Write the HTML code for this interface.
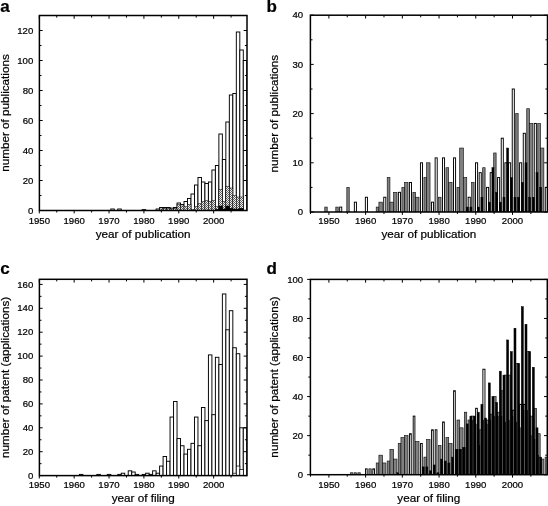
<!DOCTYPE html>
<html><head><meta charset="utf-8"><title>Publications and patents per year</title>
<style>html,body{margin:0;padding:0;background:#fff}svg{display:block}text{font-family:'Liberation Sans', Arial, Helvetica, sans-serif;fill:#000;stroke:#000;stroke-width:0.22px}</style>
</head><body>
<svg width="548" height="506" viewBox="0 0 548 506">
<rect width="548" height="506" fill="#fff"/>
<defs>
<pattern id="hat" width="2" height="2" patternUnits="userSpaceOnUse"><rect width="2" height="2" fill="#f0f0f0"/><rect width="1" height="1" fill="#5a5a5a"/><rect x="1" y="1" width="1" height="1" fill="#6a6a6a"/></pattern>
<clipPath id="ca"><rect x="39.4" y="15.5" width="207.6" height="195"/></clipPath>
<clipPath id="cb"><rect x="310.4" y="15.2" width="237.1" height="196.8"/></clipPath>
<clipPath id="cc"><rect x="39.4" y="279.3" width="207.6" height="196.3"/></clipPath>
<clipPath id="cd"><rect x="310.4" y="279.4" width="236.9" height="195.3"/></clipPath>
</defs>
<g clip-path="url(#ca)">
<rect x="110.78" y="209" width="3.49" height="1.5" fill="#fff" stroke="#000" stroke-width="0.95"/>
<rect x="117.76" y="209" width="3.49" height="1.5" fill="#fff" stroke="#000" stroke-width="0.95"/>
<rect x="142.17" y="209.6" width="3.49" height="0.9" fill="#fff" stroke="#000" stroke-width="0.95"/>
<rect x="156.11" y="209" width="3.49" height="1.5" fill="#fff" stroke="#000" stroke-width="0.95"/>
<rect x="159.6" y="207.5" width="3.49" height="3" fill="#fff" stroke="#000" stroke-width="0.95"/>
<rect x="163.09" y="207.5" width="3.49" height="3" fill="#fff" stroke="#000" stroke-width="0.95"/>
<rect x="166.58" y="207.5" width="3.49" height="3" fill="#fff" stroke="#000" stroke-width="0.95"/>
<rect x="170.06" y="208.1" width="3.49" height="2.4" fill="#fff" stroke="#000" stroke-width="0.95"/>
<rect x="173.55" y="207.5" width="3.49" height="3" fill="#fff" stroke="#000" stroke-width="0.95"/>
<rect x="177.04" y="203" width="3.49" height="7.5" fill="#fff" stroke="#000" stroke-width="0.95"/>
<rect x="180.52" y="204.5" width="3.49" height="6" fill="#fff" stroke="#000" stroke-width="0.95"/>
<rect x="184.01" y="201.5" width="3.49" height="9" fill="#fff" stroke="#000" stroke-width="0.95"/>
<rect x="187.5" y="198.5" width="3.49" height="12" fill="#fff" stroke="#000" stroke-width="0.95"/>
<rect x="190.98" y="194" width="3.49" height="16.5" fill="#fff" stroke="#000" stroke-width="0.95"/>
<rect x="194.47" y="185" width="3.49" height="25.5" fill="#fff" stroke="#000" stroke-width="0.95"/>
<rect x="197.96" y="177.5" width="3.49" height="33" fill="#fff" stroke="#000" stroke-width="0.95"/>
<rect x="201.45" y="182" width="3.49" height="28.5" fill="#fff" stroke="#000" stroke-width="0.95"/>
<rect x="204.93" y="183.5" width="3.49" height="27" fill="#fff" stroke="#000" stroke-width="0.95"/>
<rect x="208.42" y="182" width="3.49" height="28.5" fill="#fff" stroke="#000" stroke-width="0.95"/>
<rect x="211.91" y="170" width="3.49" height="40.5" fill="#fff" stroke="#000" stroke-width="0.95"/>
<rect x="215.39" y="165.5" width="3.49" height="45" fill="#fff" stroke="#000" stroke-width="0.95"/>
<rect x="218.88" y="134" width="3.49" height="76.5" fill="#fff" stroke="#000" stroke-width="0.95"/>
<rect x="222.37" y="159.5" width="3.49" height="51" fill="#fff" stroke="#000" stroke-width="0.95"/>
<rect x="225.85" y="122" width="3.49" height="88.5" fill="#fff" stroke="#000" stroke-width="0.95"/>
<rect x="229.34" y="95" width="3.49" height="115.5" fill="#fff" stroke="#000" stroke-width="0.95"/>
<rect x="232.83" y="93.5" width="3.49" height="117" fill="#fff" stroke="#000" stroke-width="0.95"/>
<rect x="236.32" y="32" width="3.49" height="178.5" fill="#fff" stroke="#000" stroke-width="0.95"/>
<rect x="239.8" y="50" width="3.49" height="160.5" fill="#fff" stroke="#000" stroke-width="0.95"/>
<rect x="243.29" y="60.5" width="3.49" height="150" fill="#fff" stroke="#000" stroke-width="0.95"/>
<rect x="159.6" y="209" width="3.49" height="1.5" fill="url(#hat)" stroke="#000" stroke-width="0.5"/>
<rect x="163.09" y="208.55" width="3.49" height="1.95" fill="url(#hat)" stroke="#000" stroke-width="0.5"/>
<rect x="166.58" y="208.55" width="3.49" height="1.95" fill="url(#hat)" stroke="#000" stroke-width="0.5"/>
<rect x="170.06" y="209" width="3.49" height="1.5" fill="url(#hat)" stroke="#000" stroke-width="0.5"/>
<rect x="173.55" y="208.55" width="3.49" height="1.95" fill="url(#hat)" stroke="#000" stroke-width="0.5"/>
<rect x="177.04" y="204.5" width="3.49" height="6" fill="url(#hat)" stroke="#000" stroke-width="0.5"/>
<rect x="180.52" y="206" width="3.49" height="4.5" fill="url(#hat)" stroke="#000" stroke-width="0.5"/>
<rect x="184.01" y="206.75" width="3.49" height="3.75" fill="url(#hat)" stroke="#000" stroke-width="0.5"/>
<rect x="187.5" y="204.5" width="3.49" height="6" fill="url(#hat)" stroke="#000" stroke-width="0.5"/>
<rect x="190.98" y="209.3" width="3.49" height="1.2" fill="url(#hat)" stroke="#000" stroke-width="0.5"/>
<rect x="194.47" y="206.75" width="3.49" height="3.75" fill="url(#hat)" stroke="#000" stroke-width="0.5"/>
<rect x="197.96" y="203.75" width="3.49" height="6.75" fill="url(#hat)" stroke="#000" stroke-width="0.5"/>
<rect x="201.45" y="201.5" width="3.49" height="9" fill="url(#hat)" stroke="#000" stroke-width="0.5"/>
<rect x="204.93" y="200.75" width="3.49" height="9.75" fill="url(#hat)" stroke="#000" stroke-width="0.5"/>
<rect x="208.42" y="201.5" width="3.49" height="9" fill="url(#hat)" stroke="#000" stroke-width="0.5"/>
<rect x="211.91" y="200.75" width="3.49" height="9.75" fill="url(#hat)" stroke="#000" stroke-width="0.5"/>
<rect x="215.39" y="206.75" width="3.49" height="3.75" fill="url(#hat)" stroke="#000" stroke-width="0.5"/>
<rect x="218.88" y="189.5" width="3.49" height="21" fill="url(#hat)" stroke="#000" stroke-width="0.5"/>
<rect x="222.37" y="201.5" width="3.49" height="9" fill="url(#hat)" stroke="#000" stroke-width="0.5"/>
<rect x="225.85" y="186.5" width="3.49" height="24" fill="url(#hat)" stroke="#000" stroke-width="0.5"/>
<rect x="229.34" y="188" width="3.49" height="22.5" fill="url(#hat)" stroke="#000" stroke-width="0.5"/>
<rect x="232.83" y="195.5" width="3.49" height="15" fill="url(#hat)" stroke="#000" stroke-width="0.5"/>
<rect x="236.32" y="197" width="3.49" height="13.5" fill="url(#hat)" stroke="#000" stroke-width="0.5"/>
<rect x="239.8" y="197" width="3.49" height="13.5" fill="url(#hat)" stroke="#000" stroke-width="0.5"/>
<rect x="215.39" y="209.3" width="3.49" height="1.2" fill="#000" stroke="#000" stroke-width="0.5"/>
<rect x="218.88" y="206" width="3.49" height="4.5" fill="#000" stroke="#000" stroke-width="0.5"/>
<rect x="222.37" y="209" width="3.49" height="1.5" fill="#000" stroke="#000" stroke-width="0.5"/>
<rect x="225.85" y="206" width="3.49" height="4.5" fill="#000" stroke="#000" stroke-width="0.5"/>
<rect x="229.34" y="208.25" width="3.49" height="2.25" fill="#000" stroke="#000" stroke-width="0.5"/>
<rect x="232.83" y="209" width="3.49" height="1.5" fill="#000" stroke="#000" stroke-width="0.5"/>
<rect x="236.32" y="209" width="3.49" height="1.5" fill="#000" stroke="#000" stroke-width="0.5"/>
<rect x="239.8" y="208.25" width="3.49" height="2.25" fill="#000" stroke="#000" stroke-width="0.5"/>
</g>
<path d="M39.3 210.5v2.9 M39.3 15.5v3.3" stroke="#000" stroke-width="1.0" fill="none"/>
<path d="M56.73 210.5v2 M56.73 15.5v2.1" stroke="#000" stroke-width="1.0" fill="none"/>
<path d="M74.17 210.5v2.9 M74.17 15.5v3.3" stroke="#000" stroke-width="1.0" fill="none"/>
<path d="M91.6 210.5v2 M91.6 15.5v2.1" stroke="#000" stroke-width="1.0" fill="none"/>
<path d="M109.04 210.5v2.9 M109.04 15.5v3.3" stroke="#000" stroke-width="1.0" fill="none"/>
<path d="M126.47 210.5v2 M126.47 15.5v2.1" stroke="#000" stroke-width="1.0" fill="none"/>
<path d="M143.91 210.5v2.9 M143.91 15.5v3.3" stroke="#000" stroke-width="1.0" fill="none"/>
<path d="M161.34 210.5v2 M161.34 15.5v2.1" stroke="#000" stroke-width="1.0" fill="none"/>
<path d="M178.78 210.5v2.9 M178.78 15.5v3.3" stroke="#000" stroke-width="1.0" fill="none"/>
<path d="M196.21 210.5v2 M196.21 15.5v2.1" stroke="#000" stroke-width="1.0" fill="none"/>
<path d="M213.65 210.5v2.9 M213.65 15.5v3.3" stroke="#000" stroke-width="1.0" fill="none"/>
<path d="M231.08 210.5v2 M231.08 15.5v2.1" stroke="#000" stroke-width="1.0" fill="none"/>
<path d="M39.4 210.5h3.3 M247 210.5h-3.3" stroke="#000" stroke-width="1.0" fill="none"/>
<path d="M39.4 195.5h2.1 M247 195.5h-2.1" stroke="#000" stroke-width="1.0" fill="none"/>
<path d="M39.4 180.5h3.3 M247 180.5h-3.3" stroke="#000" stroke-width="1.0" fill="none"/>
<path d="M39.4 165.5h2.1 M247 165.5h-2.1" stroke="#000" stroke-width="1.0" fill="none"/>
<path d="M39.4 150.5h3.3 M247 150.5h-3.3" stroke="#000" stroke-width="1.0" fill="none"/>
<path d="M39.4 135.5h2.1 M247 135.5h-2.1" stroke="#000" stroke-width="1.0" fill="none"/>
<path d="M39.4 120.5h3.3 M247 120.5h-3.3" stroke="#000" stroke-width="1.0" fill="none"/>
<path d="M39.4 105.5h2.1 M247 105.5h-2.1" stroke="#000" stroke-width="1.0" fill="none"/>
<path d="M39.4 90.5h3.3 M247 90.5h-3.3" stroke="#000" stroke-width="1.0" fill="none"/>
<path d="M39.4 75.5h2.1 M247 75.5h-2.1" stroke="#000" stroke-width="1.0" fill="none"/>
<path d="M39.4 60.5h3.3 M247 60.5h-3.3" stroke="#000" stroke-width="1.0" fill="none"/>
<path d="M39.4 45.5h2.1 M247 45.5h-2.1" stroke="#000" stroke-width="1.0" fill="none"/>
<path d="M39.4 30.5h3.3 M247 30.5h-3.3" stroke="#000" stroke-width="1.0" fill="none"/>
<path d="M39.4 15.5h2.1 M247 15.5h-2.1" stroke="#000" stroke-width="1.0" fill="none"/>
<rect x="39.4" y="15.5" width="207.6" height="195" fill="none" stroke="#000" stroke-width="1.5"/>
<text x="39.3" y="224" font-size="9.6" text-anchor="middle" font-weight="normal">1950</text>
<text x="74.17" y="224" font-size="9.6" text-anchor="middle" font-weight="normal">1960</text>
<text x="109.04" y="224" font-size="9.6" text-anchor="middle" font-weight="normal">1970</text>
<text x="143.91" y="224" font-size="9.6" text-anchor="middle" font-weight="normal">1980</text>
<text x="178.78" y="224" font-size="9.6" text-anchor="middle" font-weight="normal">1990</text>
<text x="213.65" y="224" font-size="9.6" text-anchor="middle" font-weight="normal">2000</text>
<text x="33.3" y="213.6" font-size="9.6" text-anchor="end" font-weight="normal">0</text>
<text x="33.3" y="183.6" font-size="9.6" text-anchor="end" font-weight="normal">20</text>
<text x="33.3" y="153.6" font-size="9.6" text-anchor="end" font-weight="normal">40</text>
<text x="33.3" y="123.6" font-size="9.6" text-anchor="end" font-weight="normal">60</text>
<text x="33.3" y="93.6" font-size="9.6" text-anchor="end" font-weight="normal">80</text>
<text x="33.3" y="63.6" font-size="9.6" text-anchor="end" font-weight="normal">100</text>
<text x="33.3" y="33.6" font-size="9.6" text-anchor="end" font-weight="normal">120</text>
<text x="143.2" y="237.7" font-size="11.7" text-anchor="middle" font-weight="normal">year of publication</text>
<text x="8.8" y="113" font-size="11.7" text-anchor="middle" font-weight="normal" transform="rotate(-90 8.8 113)">number of publications</text>
<text x="0.2" y="11.7" font-size="17" text-anchor="start" font-weight="bold">a</text>
<g clip-path="url(#cc)">
<rect x="79.4" y="474.41" width="3.49" height="1.19" fill="#fff" stroke="#000" stroke-width="0.95"/>
<rect x="96.84" y="474.41" width="3.49" height="1.19" fill="#fff" stroke="#000" stroke-width="0.95"/>
<rect x="107.3" y="474.41" width="3.49" height="1.19" fill="#fff" stroke="#000" stroke-width="0.95"/>
<rect x="117.76" y="474.41" width="3.49" height="1.19" fill="#fff" stroke="#000" stroke-width="0.95"/>
<rect x="121.24" y="473.21" width="3.49" height="2.39" fill="#fff" stroke="#000" stroke-width="0.95"/>
<rect x="128.22" y="470.82" width="3.49" height="4.78" fill="#fff" stroke="#000" stroke-width="0.95"/>
<rect x="131.71" y="472.02" width="3.49" height="3.58" fill="#fff" stroke="#000" stroke-width="0.95"/>
<rect x="135.19" y="474.41" width="3.49" height="1.19" fill="#fff" stroke="#000" stroke-width="0.95"/>
<rect x="142.17" y="474.41" width="3.49" height="1.19" fill="#fff" stroke="#000" stroke-width="0.95"/>
<rect x="145.65" y="473.21" width="3.49" height="2.39" fill="#fff" stroke="#000" stroke-width="0.95"/>
<rect x="149.14" y="474.41" width="3.49" height="1.19" fill="#fff" stroke="#000" stroke-width="0.95"/>
<rect x="152.63" y="470.82" width="3.49" height="4.78" fill="#fff" stroke="#000" stroke-width="0.95"/>
<rect x="156.11" y="473.21" width="3.49" height="2.39" fill="#fff" stroke="#000" stroke-width="0.95"/>
<rect x="159.6" y="466.04" width="3.49" height="9.56" fill="#fff" stroke="#000" stroke-width="0.95"/>
<rect x="163.09" y="456.48" width="3.49" height="19.12" fill="#fff" stroke="#000" stroke-width="0.95"/>
<rect x="166.58" y="461.26" width="3.49" height="14.34" fill="#fff" stroke="#000" stroke-width="0.95"/>
<rect x="170.06" y="417.05" width="3.49" height="58.56" fill="#fff" stroke="#000" stroke-width="0.95"/>
<rect x="173.55" y="401.51" width="3.49" height="74.09" fill="#fff" stroke="#000" stroke-width="0.95"/>
<rect x="177.04" y="438.56" width="3.49" height="37.05" fill="#fff" stroke="#000" stroke-width="0.95"/>
<rect x="180.52" y="445.73" width="3.49" height="29.88" fill="#fff" stroke="#000" stroke-width="0.95"/>
<rect x="184.01" y="454.09" width="3.49" height="21.51" fill="#fff" stroke="#000" stroke-width="0.95"/>
<rect x="187.5" y="449.31" width="3.49" height="26.29" fill="#fff" stroke="#000" stroke-width="0.95"/>
<rect x="190.98" y="443.34" width="3.49" height="32.26" fill="#fff" stroke="#000" stroke-width="0.95"/>
<rect x="194.47" y="417.05" width="3.49" height="58.56" fill="#fff" stroke="#000" stroke-width="0.95"/>
<rect x="197.96" y="445.73" width="3.49" height="29.88" fill="#fff" stroke="#000" stroke-width="0.95"/>
<rect x="201.45" y="407.49" width="3.49" height="68.12" fill="#fff" stroke="#000" stroke-width="0.95"/>
<rect x="204.93" y="420.63" width="3.49" height="54.97" fill="#fff" stroke="#000" stroke-width="0.95"/>
<rect x="208.42" y="354.91" width="3.49" height="120.69" fill="#fff" stroke="#000" stroke-width="0.95"/>
<rect x="211.91" y="414.66" width="3.49" height="60.94" fill="#fff" stroke="#000" stroke-width="0.95"/>
<rect x="215.39" y="357.3" width="3.49" height="118.31" fill="#fff" stroke="#000" stroke-width="0.95"/>
<rect x="218.88" y="364.47" width="3.49" height="111.13" fill="#fff" stroke="#000" stroke-width="0.95"/>
<rect x="222.37" y="293.96" width="3.49" height="181.64" fill="#fff" stroke="#000" stroke-width="0.95"/>
<rect x="225.85" y="329.81" width="3.49" height="145.79" fill="#fff" stroke="#000" stroke-width="0.95"/>
<rect x="229.34" y="310.69" width="3.49" height="164.91" fill="#fff" stroke="#000" stroke-width="0.95"/>
<rect x="232.83" y="347.74" width="3.49" height="127.87" fill="#fff" stroke="#000" stroke-width="0.95"/>
<rect x="236.32" y="353.71" width="3.49" height="121.89" fill="#fff" stroke="#000" stroke-width="0.95"/>
<rect x="239.8" y="427.8" width="3.49" height="47.8" fill="#fff" stroke="#000" stroke-width="0.95"/>
<rect x="243.29" y="427.8" width="3.49" height="47.8" fill="#fff" stroke="#000" stroke-width="0.95"/>
<rect x="232.83" y="473.21" width="3.49" height="2.39" fill="#fff" stroke="#000" stroke-width="0.7"/>
<rect x="236.32" y="466.04" width="3.49" height="9.56" fill="#fff" stroke="#000" stroke-width="0.7"/>
<rect x="239.8" y="469.62" width="3.49" height="5.98" fill="#fff" stroke="#000" stroke-width="0.7"/>
</g>
<path d="M39.3 475.6v2.9 M39.3 279.3v3.3" stroke="#000" stroke-width="1.0" fill="none"/>
<path d="M56.73 475.6v2 M56.73 279.3v2.1" stroke="#000" stroke-width="1.0" fill="none"/>
<path d="M74.17 475.6v2.9 M74.17 279.3v3.3" stroke="#000" stroke-width="1.0" fill="none"/>
<path d="M91.6 475.6v2 M91.6 279.3v2.1" stroke="#000" stroke-width="1.0" fill="none"/>
<path d="M109.04 475.6v2.9 M109.04 279.3v3.3" stroke="#000" stroke-width="1.0" fill="none"/>
<path d="M126.47 475.6v2 M126.47 279.3v2.1" stroke="#000" stroke-width="1.0" fill="none"/>
<path d="M143.91 475.6v2.9 M143.91 279.3v3.3" stroke="#000" stroke-width="1.0" fill="none"/>
<path d="M161.34 475.6v2 M161.34 279.3v2.1" stroke="#000" stroke-width="1.0" fill="none"/>
<path d="M178.78 475.6v2.9 M178.78 279.3v3.3" stroke="#000" stroke-width="1.0" fill="none"/>
<path d="M196.21 475.6v2 M196.21 279.3v2.1" stroke="#000" stroke-width="1.0" fill="none"/>
<path d="M213.65 475.6v2.9 M213.65 279.3v3.3" stroke="#000" stroke-width="1.0" fill="none"/>
<path d="M231.08 475.6v2 M231.08 279.3v2.1" stroke="#000" stroke-width="1.0" fill="none"/>
<path d="M39.4 475.6h3.3 M247 475.6h-3.3" stroke="#000" stroke-width="1.0" fill="none"/>
<path d="M39.4 463.65h2.1 M247 463.65h-2.1" stroke="#000" stroke-width="1.0" fill="none"/>
<path d="M39.4 451.7h3.3 M247 451.7h-3.3" stroke="#000" stroke-width="1.0" fill="none"/>
<path d="M39.4 439.75h2.1 M247 439.75h-2.1" stroke="#000" stroke-width="1.0" fill="none"/>
<path d="M39.4 427.8h3.3 M247 427.8h-3.3" stroke="#000" stroke-width="1.0" fill="none"/>
<path d="M39.4 415.85h2.1 M247 415.85h-2.1" stroke="#000" stroke-width="1.0" fill="none"/>
<path d="M39.4 403.9h3.3 M247 403.9h-3.3" stroke="#000" stroke-width="1.0" fill="none"/>
<path d="M39.4 391.95h2.1 M247 391.95h-2.1" stroke="#000" stroke-width="1.0" fill="none"/>
<path d="M39.4 380h3.3 M247 380h-3.3" stroke="#000" stroke-width="1.0" fill="none"/>
<path d="M39.4 368.05h2.1 M247 368.05h-2.1" stroke="#000" stroke-width="1.0" fill="none"/>
<path d="M39.4 356.1h3.3 M247 356.1h-3.3" stroke="#000" stroke-width="1.0" fill="none"/>
<path d="M39.4 344.15h2.1 M247 344.15h-2.1" stroke="#000" stroke-width="1.0" fill="none"/>
<path d="M39.4 332.2h3.3 M247 332.2h-3.3" stroke="#000" stroke-width="1.0" fill="none"/>
<path d="M39.4 320.25h2.1 M247 320.25h-2.1" stroke="#000" stroke-width="1.0" fill="none"/>
<path d="M39.4 308.3h3.3 M247 308.3h-3.3" stroke="#000" stroke-width="1.0" fill="none"/>
<path d="M39.4 296.35h2.1 M247 296.35h-2.1" stroke="#000" stroke-width="1.0" fill="none"/>
<path d="M39.4 284.4h3.3 M247 284.4h-3.3" stroke="#000" stroke-width="1.0" fill="none"/>
<rect x="39.4" y="279.3" width="207.6" height="196.3" fill="none" stroke="#000" stroke-width="1.5"/>
<text x="39.3" y="488.3" font-size="9.6" text-anchor="middle" font-weight="normal">1950</text>
<text x="74.17" y="488.3" font-size="9.6" text-anchor="middle" font-weight="normal">1960</text>
<text x="109.04" y="488.3" font-size="9.6" text-anchor="middle" font-weight="normal">1970</text>
<text x="143.91" y="488.3" font-size="9.6" text-anchor="middle" font-weight="normal">1980</text>
<text x="178.78" y="488.3" font-size="9.6" text-anchor="middle" font-weight="normal">1990</text>
<text x="213.65" y="488.3" font-size="9.6" text-anchor="middle" font-weight="normal">2000</text>
<text x="33.3" y="478.7" font-size="9.6" text-anchor="end" font-weight="normal">0</text>
<text x="33.3" y="454.8" font-size="9.6" text-anchor="end" font-weight="normal">20</text>
<text x="33.3" y="430.9" font-size="9.6" text-anchor="end" font-weight="normal">40</text>
<text x="33.3" y="407" font-size="9.6" text-anchor="end" font-weight="normal">60</text>
<text x="33.3" y="383.1" font-size="9.6" text-anchor="end" font-weight="normal">80</text>
<text x="33.3" y="359.2" font-size="9.6" text-anchor="end" font-weight="normal">100</text>
<text x="33.3" y="335.3" font-size="9.6" text-anchor="end" font-weight="normal">120</text>
<text x="33.3" y="311.4" font-size="9.6" text-anchor="end" font-weight="normal">140</text>
<text x="33.3" y="287.5" font-size="9.6" text-anchor="end" font-weight="normal">160</text>
<text x="143.2" y="502" font-size="11.7" text-anchor="middle" font-weight="normal">year of filing</text>
<text x="8.8" y="377.45" font-size="11.7" text-anchor="middle" font-weight="normal" transform="rotate(-90 8.8 377.45)">number of patent (applications)</text>
<text x="0.2" y="274.1" font-size="17" text-anchor="start" font-weight="bold">c</text>
<g clip-path="url(#cb)">
<rect x="324.79" y="207.08" width="2.42" height="4.92" fill="#808080" stroke="#111" stroke-width="0.65"/>
<rect x="335.8" y="207.08" width="2.42" height="4.92" fill="#808080" stroke="#111" stroke-width="0.65"/>
<rect x="339.66" y="207.08" width="2.09" height="4.92" fill="#fff" stroke="#000" stroke-width="0.95"/>
<rect x="346.82" y="187.4" width="2.42" height="24.6" fill="#808080" stroke="#111" stroke-width="0.65"/>
<rect x="354.35" y="202.16" width="2.09" height="9.84" fill="#fff" stroke="#000" stroke-width="0.95"/>
<rect x="365.36" y="197.24" width="2.09" height="14.76" fill="#fff" stroke="#000" stroke-width="0.95"/>
<rect x="376.2" y="207.08" width="2.72" height="4.92" fill="#808080" stroke="#111" stroke-width="0.65"/>
<rect x="378.91" y="202.16" width="3.38" height="9.84" fill="#808080" stroke="#111" stroke-width="0.65"/>
<rect x="383.72" y="197.24" width="2.09" height="14.76" fill="#fff" stroke="#000" stroke-width="0.95"/>
<rect x="387.21" y="177.56" width="2.72" height="34.44" fill="#808080" stroke="#111" stroke-width="0.65"/>
<rect x="389.93" y="202.16" width="3.67" height="9.84" fill="#808080" stroke="#111" stroke-width="0.65"/>
<rect x="393.6" y="192.32" width="3.38" height="19.68" fill="#808080" stroke="#111" stroke-width="0.65"/>
<rect x="398.41" y="192.32" width="2.09" height="19.68" fill="#fff" stroke="#000" stroke-width="0.95"/>
<rect x="401.9" y="187.4" width="2.72" height="24.6" fill="#808080" stroke="#111" stroke-width="0.65"/>
<rect x="404.62" y="182.48" width="3.38" height="29.52" fill="#808080" stroke="#111" stroke-width="0.65"/>
<rect x="409.43" y="182.48" width="2.09" height="29.52" fill="#fff" stroke="#000" stroke-width="0.95"/>
<rect x="412.92" y="192.32" width="2.72" height="19.68" fill="#808080" stroke="#111" stroke-width="0.65"/>
<rect x="415.63" y="197.24" width="3.38" height="14.76" fill="#808080" stroke="#111" stroke-width="0.65"/>
<rect x="420.44" y="162.8" width="2.09" height="49.2" fill="#fff" stroke="#000" stroke-width="0.95"/>
<rect x="423.93" y="177.56" width="2.72" height="34.44" fill="#808080" stroke="#111" stroke-width="0.65"/>
<rect x="426.65" y="162.8" width="3.38" height="49.2" fill="#808080" stroke="#111" stroke-width="0.65"/>
<rect x="431.46" y="202.16" width="2.09" height="9.84" fill="#fff" stroke="#000" stroke-width="0.95"/>
<rect x="435.13" y="157.88" width="2.09" height="54.12" fill="#fff" stroke="#000" stroke-width="0.95"/>
<rect x="438.62" y="197.24" width="2.42" height="14.76" fill="#808080" stroke="#111" stroke-width="0.65"/>
<rect x="442.47" y="157.88" width="2.09" height="54.12" fill="#fff" stroke="#000" stroke-width="0.95"/>
<rect x="445.96" y="167.72" width="2.72" height="44.28" fill="#808080" stroke="#111" stroke-width="0.65"/>
<rect x="448.68" y="182.48" width="3.38" height="29.52" fill="#808080" stroke="#111" stroke-width="0.65"/>
<rect x="453.49" y="157.88" width="2.09" height="54.12" fill="#fff" stroke="#000" stroke-width="0.95"/>
<rect x="456.98" y="187.4" width="2.72" height="24.6" fill="#808080" stroke="#111" stroke-width="0.65"/>
<rect x="459.7" y="148.04" width="3.67" height="63.96" fill="#808080" stroke="#111" stroke-width="0.65"/>
<rect x="463.37" y="177.56" width="3.38" height="34.44" fill="#808080" stroke="#111" stroke-width="0.65"/>
<rect x="468.18" y="197.24" width="2.09" height="14.76" fill="#fff" stroke="#000" stroke-width="0.95"/>
<rect x="471.67" y="182.48" width="2.42" height="29.52" fill="#808080" stroke="#111" stroke-width="0.65"/>
<rect x="475.52" y="162.8" width="2.09" height="49.2" fill="#fff" stroke="#000" stroke-width="0.95"/>
<rect x="479.19" y="172.64" width="2.09" height="39.36" fill="#fff" stroke="#000" stroke-width="0.95"/>
<rect x="482.68" y="167.72" width="2.42" height="44.28" fill="#808080" stroke="#111" stroke-width="0.65"/>
<rect x="486.54" y="187.4" width="2.09" height="24.6" fill="#fff" stroke="#000" stroke-width="0.95"/>
<rect x="490.21" y="172.64" width="2.09" height="39.36" fill="#fff" stroke="#000" stroke-width="0.95"/>
<rect x="493.7" y="152.96" width="2.42" height="59.04" fill="#808080" stroke="#111" stroke-width="0.65"/>
<rect x="497.55" y="177.56" width="2.09" height="34.44" fill="#fff" stroke="#000" stroke-width="0.95"/>
<rect x="501.23" y="138.2" width="2.09" height="73.8" fill="#fff" stroke="#000" stroke-width="0.95"/>
<rect x="504.9" y="162.8" width="2.09" height="49.2" fill="#fff" stroke="#000" stroke-width="0.95"/>
<rect x="508.57" y="162.8" width="2.09" height="49.2" fill="#fff" stroke="#000" stroke-width="0.95"/>
<rect x="512.24" y="89" width="2.09" height="123" fill="#fff" stroke="#000" stroke-width="0.95"/>
<rect x="515.73" y="113.6" width="2.42" height="98.4" fill="#808080" stroke="#111" stroke-width="0.65"/>
<rect x="519.59" y="162.8" width="2.09" height="49.2" fill="#fff" stroke="#000" stroke-width="0.95"/>
<rect x="523.26" y="133.28" width="2.09" height="78.72" fill="#fff" stroke="#000" stroke-width="0.95"/>
<rect x="526.75" y="108.68" width="2.72" height="103.32" fill="#808080" stroke="#111" stroke-width="0.65"/>
<rect x="529.46" y="123.44" width="3.38" height="88.56" fill="#808080" stroke="#111" stroke-width="0.65"/>
<rect x="534.27" y="123.44" width="2.09" height="88.56" fill="#fff" stroke="#000" stroke-width="0.95"/>
<rect x="537.76" y="123.44" width="2.72" height="88.56" fill="#808080" stroke="#111" stroke-width="0.65"/>
<rect x="540.48" y="148.04" width="3.38" height="63.96" fill="#808080" stroke="#111" stroke-width="0.65"/>
<rect x="545.29" y="187.4" width="2.09" height="24.6" fill="#fff" stroke="#000" stroke-width="0.95"/>
<rect x="466.23" y="207.08" width="2.02" height="4.92" fill="#000" stroke="#000" stroke-width="0.5"/>
<rect x="469.9" y="207.08" width="2.02" height="4.92" fill="#000" stroke="#000" stroke-width="0.5"/>
<rect x="477.25" y="207.08" width="2.02" height="4.92" fill="#000" stroke="#000" stroke-width="0.5"/>
<rect x="480.92" y="197.24" width="2.02" height="14.76" fill="#000" stroke="#000" stroke-width="0.5"/>
<rect x="488.26" y="202.16" width="2.02" height="9.84" fill="#000" stroke="#000" stroke-width="0.5"/>
<rect x="491.94" y="167.72" width="2.02" height="44.28" fill="#000" stroke="#000" stroke-width="0.5"/>
<rect x="495.61" y="192.32" width="2.02" height="19.68" fill="#000" stroke="#000" stroke-width="0.5"/>
<rect x="499.28" y="202.16" width="2.02" height="9.84" fill="#000" stroke="#000" stroke-width="0.5"/>
<rect x="502.95" y="197.24" width="2.02" height="14.76" fill="#000" stroke="#000" stroke-width="0.5"/>
<rect x="506.62" y="148.04" width="2.02" height="63.96" fill="#000" stroke="#000" stroke-width="0.5"/>
<rect x="510.3" y="177.56" width="2.02" height="34.44" fill="#000" stroke="#000" stroke-width="0.5"/>
<rect x="513.97" y="197.24" width="2.02" height="14.76" fill="#000" stroke="#000" stroke-width="0.5"/>
<rect x="517.64" y="197.24" width="2.02" height="14.76" fill="#000" stroke="#000" stroke-width="0.5"/>
<rect x="521.31" y="182.48" width="2.02" height="29.52" fill="#000" stroke="#000" stroke-width="0.5"/>
<rect x="524.98" y="162.8" width="2.02" height="49.2" fill="#000" stroke="#000" stroke-width="0.5"/>
<rect x="528.66" y="197.24" width="2.02" height="14.76" fill="#000" stroke="#000" stroke-width="0.5"/>
<rect x="532.33" y="197.24" width="2.02" height="14.76" fill="#000" stroke="#000" stroke-width="0.5"/>
<rect x="536" y="172.64" width="2.02" height="39.36" fill="#000" stroke="#000" stroke-width="0.5"/>
<rect x="539.67" y="187.4" width="2.02" height="24.6" fill="#000" stroke="#000" stroke-width="0.5"/>
</g>
<path d="M310.54 212v2 M310.54 15.2v2.1" stroke="#000" stroke-width="1.0" fill="none"/>
<path d="M328.9 212v2.9 M328.9 15.2v3.3" stroke="#000" stroke-width="1.0" fill="none"/>
<path d="M347.26 212v2 M347.26 15.2v2.1" stroke="#000" stroke-width="1.0" fill="none"/>
<path d="M365.62 212v2.9 M365.62 15.2v3.3" stroke="#000" stroke-width="1.0" fill="none"/>
<path d="M383.98 212v2 M383.98 15.2v2.1" stroke="#000" stroke-width="1.0" fill="none"/>
<path d="M402.34 212v2.9 M402.34 15.2v3.3" stroke="#000" stroke-width="1.0" fill="none"/>
<path d="M420.7 212v2 M420.7 15.2v2.1" stroke="#000" stroke-width="1.0" fill="none"/>
<path d="M439.06 212v2.9 M439.06 15.2v3.3" stroke="#000" stroke-width="1.0" fill="none"/>
<path d="M457.42 212v2 M457.42 15.2v2.1" stroke="#000" stroke-width="1.0" fill="none"/>
<path d="M475.78 212v2.9 M475.78 15.2v3.3" stroke="#000" stroke-width="1.0" fill="none"/>
<path d="M494.14 212v2 M494.14 15.2v2.1" stroke="#000" stroke-width="1.0" fill="none"/>
<path d="M512.5 212v2.9 M512.5 15.2v3.3" stroke="#000" stroke-width="1.0" fill="none"/>
<path d="M530.86 212v2 M530.86 15.2v2.1" stroke="#000" stroke-width="1.0" fill="none"/>
<path d="M310.4 212h3.3 M547.5 212h-3.3" stroke="#000" stroke-width="1.0" fill="none"/>
<path d="M310.4 187.4h2.1 M547.5 187.4h-2.1" stroke="#000" stroke-width="1.0" fill="none"/>
<path d="M310.4 162.8h3.3 M547.5 162.8h-3.3" stroke="#000" stroke-width="1.0" fill="none"/>
<path d="M310.4 138.2h2.1 M547.5 138.2h-2.1" stroke="#000" stroke-width="1.0" fill="none"/>
<path d="M310.4 113.6h3.3 M547.5 113.6h-3.3" stroke="#000" stroke-width="1.0" fill="none"/>
<path d="M310.4 89h2.1 M547.5 89h-2.1" stroke="#000" stroke-width="1.0" fill="none"/>
<path d="M310.4 64.4h3.3 M547.5 64.4h-3.3" stroke="#000" stroke-width="1.0" fill="none"/>
<path d="M310.4 39.8h2.1 M547.5 39.8h-2.1" stroke="#000" stroke-width="1.0" fill="none"/>
<path d="M310.4 15.2h3.3 M547.5 15.2h-3.3" stroke="#000" stroke-width="1.0" fill="none"/>
<rect x="310.4" y="15.2" width="237.1" height="196.8" fill="none" stroke="#000" stroke-width="1.5"/>
<text x="328.9" y="224" font-size="9.6" text-anchor="middle" font-weight="normal">1950</text>
<text x="365.62" y="224" font-size="9.6" text-anchor="middle" font-weight="normal">1960</text>
<text x="402.34" y="224" font-size="9.6" text-anchor="middle" font-weight="normal">1970</text>
<text x="439.06" y="224" font-size="9.6" text-anchor="middle" font-weight="normal">1980</text>
<text x="475.78" y="224" font-size="9.6" text-anchor="middle" font-weight="normal">1990</text>
<text x="512.5" y="224" font-size="9.6" text-anchor="middle" font-weight="normal">2000</text>
<text x="303.2" y="215.1" font-size="9.6" text-anchor="end" font-weight="normal">0</text>
<text x="303.2" y="165.9" font-size="9.6" text-anchor="end" font-weight="normal">10</text>
<text x="303.2" y="116.7" font-size="9.6" text-anchor="end" font-weight="normal">20</text>
<text x="303.2" y="67.5" font-size="9.6" text-anchor="end" font-weight="normal">30</text>
<text x="303.2" y="18.3" font-size="9.6" text-anchor="end" font-weight="normal">40</text>
<text x="428.95" y="237.7" font-size="11.7" text-anchor="middle" font-weight="normal">year of publication</text>
<text x="277.7" y="113.6" font-size="11.7" text-anchor="middle" font-weight="normal" transform="rotate(-90 277.7 113.6)">number of publications</text>
<text x="266.6" y="11.7" font-size="17" text-anchor="start" font-weight="bold">b</text>
<g clip-path="url(#cd)">
<rect x="350.49" y="472.75" width="2.42" height="1.95" fill="#808080" stroke="#111" stroke-width="0.65"/>
<rect x="354.16" y="472.75" width="2.42" height="1.95" fill="#808080" stroke="#111" stroke-width="0.65"/>
<rect x="357.84" y="472.75" width="2.42" height="1.95" fill="#808080" stroke="#111" stroke-width="0.65"/>
<rect x="365.47" y="468.84" width="1.69" height="5.86" fill="#fff" stroke="#000" stroke-width="0.95"/>
<rect x="368.85" y="468.84" width="2.42" height="5.86" fill="#808080" stroke="#111" stroke-width="0.65"/>
<rect x="372.82" y="468.84" width="1.69" height="5.86" fill="#fff" stroke="#000" stroke-width="0.95"/>
<rect x="376.2" y="462.98" width="2.72" height="11.72" fill="#808080" stroke="#111" stroke-width="0.65"/>
<rect x="378.91" y="455.17" width="3.67" height="19.53" fill="#808080" stroke="#111" stroke-width="0.65"/>
<rect x="382.58" y="462.98" width="3.38" height="11.72" fill="#808080" stroke="#111" stroke-width="0.65"/>
<rect x="387.21" y="461.03" width="2.72" height="13.67" fill="#808080" stroke="#111" stroke-width="0.65"/>
<rect x="389.93" y="449.31" width="3.67" height="25.39" fill="#808080" stroke="#111" stroke-width="0.65"/>
<rect x="393.6" y="459.08" width="3.38" height="15.62" fill="#808080" stroke="#111" stroke-width="0.65"/>
<rect x="398.23" y="443.45" width="2.72" height="31.25" fill="#808080" stroke="#111" stroke-width="0.65"/>
<rect x="400.94" y="437.59" width="3.67" height="37.11" fill="#808080" stroke="#111" stroke-width="0.65"/>
<rect x="404.62" y="435.64" width="3.38" height="39.06" fill="#808080" stroke="#111" stroke-width="0.65"/>
<rect x="409.54" y="433.69" width="1.69" height="41.01" fill="#fff" stroke="#000" stroke-width="0.95"/>
<rect x="413.21" y="416.11" width="1.69" height="58.59" fill="#fff" stroke="#000" stroke-width="0.95"/>
<rect x="415.63" y="441.5" width="3.38" height="33.2" fill="#808080" stroke="#111" stroke-width="0.65"/>
<rect x="420.55" y="443.45" width="1.69" height="31.25" fill="#fff" stroke="#000" stroke-width="0.95"/>
<rect x="423.93" y="457.12" width="2.72" height="17.58" fill="#808080" stroke="#111" stroke-width="0.65"/>
<rect x="426.65" y="439.55" width="3.38" height="35.15" fill="#808080" stroke="#111" stroke-width="0.65"/>
<rect x="431.57" y="429.78" width="1.69" height="44.92" fill="#fff" stroke="#000" stroke-width="0.95"/>
<rect x="435.24" y="429.78" width="1.69" height="44.92" fill="#fff" stroke="#000" stroke-width="0.95"/>
<rect x="438.62" y="445.4" width="2.42" height="29.3" fill="#808080" stroke="#111" stroke-width="0.65"/>
<rect x="442.59" y="421.97" width="1.69" height="52.73" fill="#fff" stroke="#000" stroke-width="0.95"/>
<rect x="445.96" y="437.59" width="2.72" height="37.11" fill="#808080" stroke="#111" stroke-width="0.65"/>
<rect x="448.68" y="443.45" width="3.38" height="31.25" fill="#808080" stroke="#111" stroke-width="0.65"/>
<rect x="453.6" y="390.72" width="1.69" height="83.98" fill="#fff" stroke="#000" stroke-width="0.95"/>
<rect x="456.98" y="420.02" width="2.72" height="54.68" fill="#808080" stroke="#111" stroke-width="0.65"/>
<rect x="459.7" y="427.83" width="3.38" height="46.87" fill="#808080" stroke="#111" stroke-width="0.65"/>
<rect x="464.32" y="412.2" width="2.42" height="62.5" fill="#808080" stroke="#111" stroke-width="0.65"/>
<rect x="468" y="420.02" width="2.42" height="54.68" fill="#808080" stroke="#111" stroke-width="0.65"/>
<rect x="471.67" y="416.11" width="2.42" height="58.59" fill="#808080" stroke="#111" stroke-width="0.65"/>
<rect x="475.63" y="408.3" width="1.69" height="66.4" fill="#fff" stroke="#000" stroke-width="0.95"/>
<rect x="479.01" y="429.78" width="2.42" height="44.92" fill="#808080" stroke="#111" stroke-width="0.65"/>
<rect x="482.87" y="369.24" width="2.09" height="105.46" fill="#fff" stroke="#000" stroke-width="0.95"/>
<rect x="486.36" y="420.02" width="2.42" height="54.68" fill="#808080" stroke="#111" stroke-width="0.65"/>
<rect x="490.03" y="414.16" width="2.42" height="60.54" fill="#808080" stroke="#111" stroke-width="0.65"/>
<rect x="493.7" y="396.58" width="2.42" height="78.12" fill="#808080" stroke="#111" stroke-width="0.65"/>
<rect x="497.37" y="412.2" width="2.42" height="62.5" fill="#808080" stroke="#111" stroke-width="0.65"/>
<rect x="501.04" y="390.72" width="2.42" height="83.98" fill="#808080" stroke="#111" stroke-width="0.65"/>
<rect x="504.72" y="375.1" width="2.42" height="99.6" fill="#808080" stroke="#111" stroke-width="0.65"/>
<rect x="508.39" y="375.1" width="2.42" height="99.6" fill="#808080" stroke="#111" stroke-width="0.65"/>
<rect x="512.35" y="410.25" width="1.69" height="64.45" fill="#fff" stroke="#000" stroke-width="0.95"/>
<rect x="515.73" y="363.38" width="2.42" height="111.32" fill="#808080" stroke="#111" stroke-width="0.65"/>
<rect x="519.7" y="404.39" width="1.69" height="70.31" fill="#fff" stroke="#000" stroke-width="0.95"/>
<rect x="523.37" y="404.39" width="1.69" height="70.31" fill="#fff" stroke="#000" stroke-width="0.95"/>
<rect x="526.75" y="351.66" width="2.42" height="123.04" fill="#808080" stroke="#111" stroke-width="0.65"/>
<rect x="530.42" y="416.11" width="2.42" height="58.59" fill="#808080" stroke="#111" stroke-width="0.65"/>
<rect x="534.09" y="408.3" width="2.42" height="66.4" fill="#808080" stroke="#111" stroke-width="0.65"/>
<rect x="537.76" y="433.69" width="2.42" height="41.01" fill="#808080" stroke="#111" stroke-width="0.65"/>
<rect x="541.44" y="459.08" width="2.42" height="15.62" fill="#808080" stroke="#111" stroke-width="0.65"/>
<rect x="545.11" y="457.12" width="2.42" height="17.58" fill="#808080" stroke="#111" stroke-width="0.65"/>
<rect x="457.05" y="449.31" width="0.88" height="25.39" fill="#000" stroke="#000" stroke-width="0.3"/>
<rect x="460.72" y="449.31" width="0.88" height="25.39" fill="#000" stroke="#000" stroke-width="0.3"/>
<rect x="464.4" y="447.36" width="0.88" height="27.34" fill="#000" stroke="#000" stroke-width="0.3"/>
<rect x="471.74" y="420.02" width="0.88" height="54.68" fill="#000" stroke="#000" stroke-width="0.3"/>
<rect x="475.41" y="423.92" width="0.88" height="50.78" fill="#000" stroke="#000" stroke-width="0.3"/>
<rect x="479.08" y="445.4" width="0.88" height="29.3" fill="#000" stroke="#000" stroke-width="0.3"/>
<rect x="482.76" y="420.02" width="0.88" height="54.68" fill="#000" stroke="#000" stroke-width="0.3"/>
<rect x="486.43" y="423.92" width="0.88" height="50.78" fill="#000" stroke="#000" stroke-width="0.3"/>
<rect x="490.1" y="420.02" width="0.88" height="54.68" fill="#000" stroke="#000" stroke-width="0.3"/>
<rect x="493.77" y="416.11" width="0.88" height="58.59" fill="#000" stroke="#000" stroke-width="0.3"/>
<rect x="497.44" y="416.11" width="0.88" height="58.59" fill="#000" stroke="#000" stroke-width="0.3"/>
<rect x="501.12" y="416.11" width="0.88" height="58.59" fill="#000" stroke="#000" stroke-width="0.3"/>
<rect x="504.79" y="421.97" width="0.88" height="52.73" fill="#000" stroke="#000" stroke-width="0.3"/>
<rect x="508.46" y="420.02" width="0.88" height="54.68" fill="#000" stroke="#000" stroke-width="0.3"/>
<rect x="512.13" y="416.11" width="0.88" height="58.59" fill="#000" stroke="#000" stroke-width="0.3"/>
<rect x="515.8" y="421.97" width="0.88" height="52.73" fill="#000" stroke="#000" stroke-width="0.3"/>
<rect x="519.48" y="427.83" width="0.88" height="46.87" fill="#000" stroke="#000" stroke-width="0.3"/>
<rect x="523.15" y="410.25" width="0.88" height="64.45" fill="#000" stroke="#000" stroke-width="0.3"/>
<rect x="526.82" y="410.25" width="0.88" height="64.45" fill="#000" stroke="#000" stroke-width="0.3"/>
<rect x="530.49" y="435.64" width="0.88" height="39.06" fill="#000" stroke="#000" stroke-width="0.3"/>
<rect x="534.16" y="439.55" width="0.88" height="35.15" fill="#000" stroke="#000" stroke-width="0.3"/>
<rect x="537.84" y="455.17" width="0.88" height="19.53" fill="#000" stroke="#000" stroke-width="0.3"/>
<rect x="396.46" y="472.75" width="2.02" height="1.95" fill="#000" stroke="#000" stroke-width="0.5"/>
<rect x="422.17" y="466.89" width="2.02" height="7.81" fill="#000" stroke="#000" stroke-width="0.5"/>
<rect x="425.84" y="466.89" width="2.02" height="7.81" fill="#000" stroke="#000" stroke-width="0.5"/>
<rect x="429.51" y="470.79" width="2.02" height="3.91" fill="#000" stroke="#000" stroke-width="0.5"/>
<rect x="433.18" y="464.94" width="2.02" height="9.76" fill="#000" stroke="#000" stroke-width="0.5"/>
<rect x="436.86" y="472.75" width="2.02" height="1.95" fill="#000" stroke="#000" stroke-width="0.5"/>
<rect x="440.53" y="459.08" width="2.02" height="15.62" fill="#000" stroke="#000" stroke-width="0.5"/>
<rect x="444.2" y="461.03" width="2.02" height="13.67" fill="#000" stroke="#000" stroke-width="0.5"/>
<rect x="447.87" y="462.98" width="2.02" height="11.72" fill="#000" stroke="#000" stroke-width="0.5"/>
<rect x="451.54" y="457.12" width="2.02" height="17.58" fill="#000" stroke="#000" stroke-width="0.5"/>
<rect x="455.22" y="449.31" width="2.02" height="25.39" fill="#000" stroke="#000" stroke-width="0.5"/>
<rect x="458.89" y="449.31" width="2.02" height="25.39" fill="#000" stroke="#000" stroke-width="0.5"/>
<rect x="462.56" y="447.36" width="2.02" height="27.34" fill="#000" stroke="#000" stroke-width="0.5"/>
<rect x="466.23" y="423.92" width="2.02" height="50.78" fill="#000" stroke="#000" stroke-width="0.5"/>
<rect x="469.9" y="416.11" width="2.02" height="58.59" fill="#000" stroke="#000" stroke-width="0.5"/>
<rect x="473.58" y="416.11" width="2.02" height="58.59" fill="#000" stroke="#000" stroke-width="0.5"/>
<rect x="477.25" y="412.2" width="2.02" height="62.5" fill="#000" stroke="#000" stroke-width="0.5"/>
<rect x="480.92" y="404.39" width="2.02" height="70.31" fill="#000" stroke="#000" stroke-width="0.5"/>
<rect x="484.59" y="418.06" width="2.02" height="56.64" fill="#000" stroke="#000" stroke-width="0.5"/>
<rect x="488.26" y="382.91" width="2.02" height="91.79" fill="#000" stroke="#000" stroke-width="0.5"/>
<rect x="491.94" y="396.58" width="2.02" height="78.12" fill="#000" stroke="#000" stroke-width="0.5"/>
<rect x="495.61" y="402.44" width="2.02" height="72.26" fill="#000" stroke="#000" stroke-width="0.5"/>
<rect x="499.28" y="371.19" width="2.02" height="103.51" fill="#000" stroke="#000" stroke-width="0.5"/>
<rect x="502.95" y="375.1" width="2.02" height="99.6" fill="#000" stroke="#000" stroke-width="0.5"/>
<rect x="506.62" y="339.94" width="2.02" height="134.76" fill="#000" stroke="#000" stroke-width="0.5"/>
<rect x="510.3" y="351.66" width="2.02" height="123.04" fill="#000" stroke="#000" stroke-width="0.5"/>
<rect x="513.97" y="328.23" width="2.02" height="146.47" fill="#000" stroke="#000" stroke-width="0.5"/>
<rect x="517.64" y="363.38" width="2.02" height="111.32" fill="#000" stroke="#000" stroke-width="0.5"/>
<rect x="521.31" y="306.74" width="2.02" height="167.96" fill="#000" stroke="#000" stroke-width="0.5"/>
<rect x="524.98" y="324.32" width="2.02" height="150.38" fill="#000" stroke="#000" stroke-width="0.5"/>
<rect x="528.66" y="351.66" width="2.02" height="123.04" fill="#000" stroke="#000" stroke-width="0.5"/>
<rect x="532.33" y="367.28" width="2.02" height="107.42" fill="#000" stroke="#000" stroke-width="0.5"/>
<rect x="536" y="427.83" width="2.02" height="46.87" fill="#000" stroke="#000" stroke-width="0.5"/>
<rect x="539.67" y="457.12" width="2.02" height="17.58" fill="#000" stroke="#000" stroke-width="0.5"/>
</g>
<path d="M310.54 474.7v2 M310.54 279.4v2.1" stroke="#000" stroke-width="1.0" fill="none"/>
<path d="M328.9 474.7v2.9 M328.9 279.4v3.3" stroke="#000" stroke-width="1.0" fill="none"/>
<path d="M347.26 474.7v2 M347.26 279.4v2.1" stroke="#000" stroke-width="1.0" fill="none"/>
<path d="M365.62 474.7v2.9 M365.62 279.4v3.3" stroke="#000" stroke-width="1.0" fill="none"/>
<path d="M383.98 474.7v2 M383.98 279.4v2.1" stroke="#000" stroke-width="1.0" fill="none"/>
<path d="M402.34 474.7v2.9 M402.34 279.4v3.3" stroke="#000" stroke-width="1.0" fill="none"/>
<path d="M420.7 474.7v2 M420.7 279.4v2.1" stroke="#000" stroke-width="1.0" fill="none"/>
<path d="M439.06 474.7v2.9 M439.06 279.4v3.3" stroke="#000" stroke-width="1.0" fill="none"/>
<path d="M457.42 474.7v2 M457.42 279.4v2.1" stroke="#000" stroke-width="1.0" fill="none"/>
<path d="M475.78 474.7v2.9 M475.78 279.4v3.3" stroke="#000" stroke-width="1.0" fill="none"/>
<path d="M494.14 474.7v2 M494.14 279.4v2.1" stroke="#000" stroke-width="1.0" fill="none"/>
<path d="M512.5 474.7v2.9 M512.5 279.4v3.3" stroke="#000" stroke-width="1.0" fill="none"/>
<path d="M530.86 474.7v2 M530.86 279.4v2.1" stroke="#000" stroke-width="1.0" fill="none"/>
<path d="M310.4 474.7h-3.3 M547.3 474.7h-3.3" stroke="#000" stroke-width="1.0" fill="none"/>
<path d="M310.4 455.17h-2.1 M547.3 455.17h-2.1" stroke="#000" stroke-width="1.0" fill="none"/>
<path d="M310.4 435.64h-3.3 M547.3 435.64h-3.3" stroke="#000" stroke-width="1.0" fill="none"/>
<path d="M310.4 416.11h-2.1 M547.3 416.11h-2.1" stroke="#000" stroke-width="1.0" fill="none"/>
<path d="M310.4 396.58h-3.3 M547.3 396.58h-3.3" stroke="#000" stroke-width="1.0" fill="none"/>
<path d="M310.4 377.05h-2.1 M547.3 377.05h-2.1" stroke="#000" stroke-width="1.0" fill="none"/>
<path d="M310.4 357.52h-3.3 M547.3 357.52h-3.3" stroke="#000" stroke-width="1.0" fill="none"/>
<path d="M310.4 337.99h-2.1 M547.3 337.99h-2.1" stroke="#000" stroke-width="1.0" fill="none"/>
<path d="M310.4 318.46h-3.3 M547.3 318.46h-3.3" stroke="#000" stroke-width="1.0" fill="none"/>
<path d="M310.4 298.93h-2.1 M547.3 298.93h-2.1" stroke="#000" stroke-width="1.0" fill="none"/>
<path d="M310.4 279.4h-3.3 M547.3 279.4h-3.3" stroke="#000" stroke-width="1.0" fill="none"/>
<rect x="310.4" y="279.4" width="236.9" height="195.3" fill="none" stroke="#000" stroke-width="1.5"/>
<text x="328.9" y="488.3" font-size="9.6" text-anchor="middle" font-weight="normal">1950</text>
<text x="365.62" y="488.3" font-size="9.6" text-anchor="middle" font-weight="normal">1960</text>
<text x="402.34" y="488.3" font-size="9.6" text-anchor="middle" font-weight="normal">1970</text>
<text x="439.06" y="488.3" font-size="9.6" text-anchor="middle" font-weight="normal">1980</text>
<text x="475.78" y="488.3" font-size="9.6" text-anchor="middle" font-weight="normal">1990</text>
<text x="512.5" y="488.3" font-size="9.6" text-anchor="middle" font-weight="normal">2000</text>
<text x="303.2" y="477.8" font-size="9.6" text-anchor="end" font-weight="normal">0</text>
<text x="303.2" y="438.74" font-size="9.6" text-anchor="end" font-weight="normal">20</text>
<text x="303.2" y="399.68" font-size="9.6" text-anchor="end" font-weight="normal">40</text>
<text x="303.2" y="360.62" font-size="9.6" text-anchor="end" font-weight="normal">60</text>
<text x="303.2" y="321.56" font-size="9.6" text-anchor="end" font-weight="normal">80</text>
<text x="303.2" y="282.5" font-size="9.6" text-anchor="end" font-weight="normal">100</text>
<text x="428.85" y="502" font-size="11.7" text-anchor="middle" font-weight="normal">year of filing</text>
<text x="277.7" y="377.05" font-size="11.7" text-anchor="middle" font-weight="normal" transform="rotate(-90 277.7 377.05)">number of patent (applications)</text>
<text x="266.6" y="274.1" font-size="17" text-anchor="start" font-weight="bold">d</text>
</svg>
</body></html>
